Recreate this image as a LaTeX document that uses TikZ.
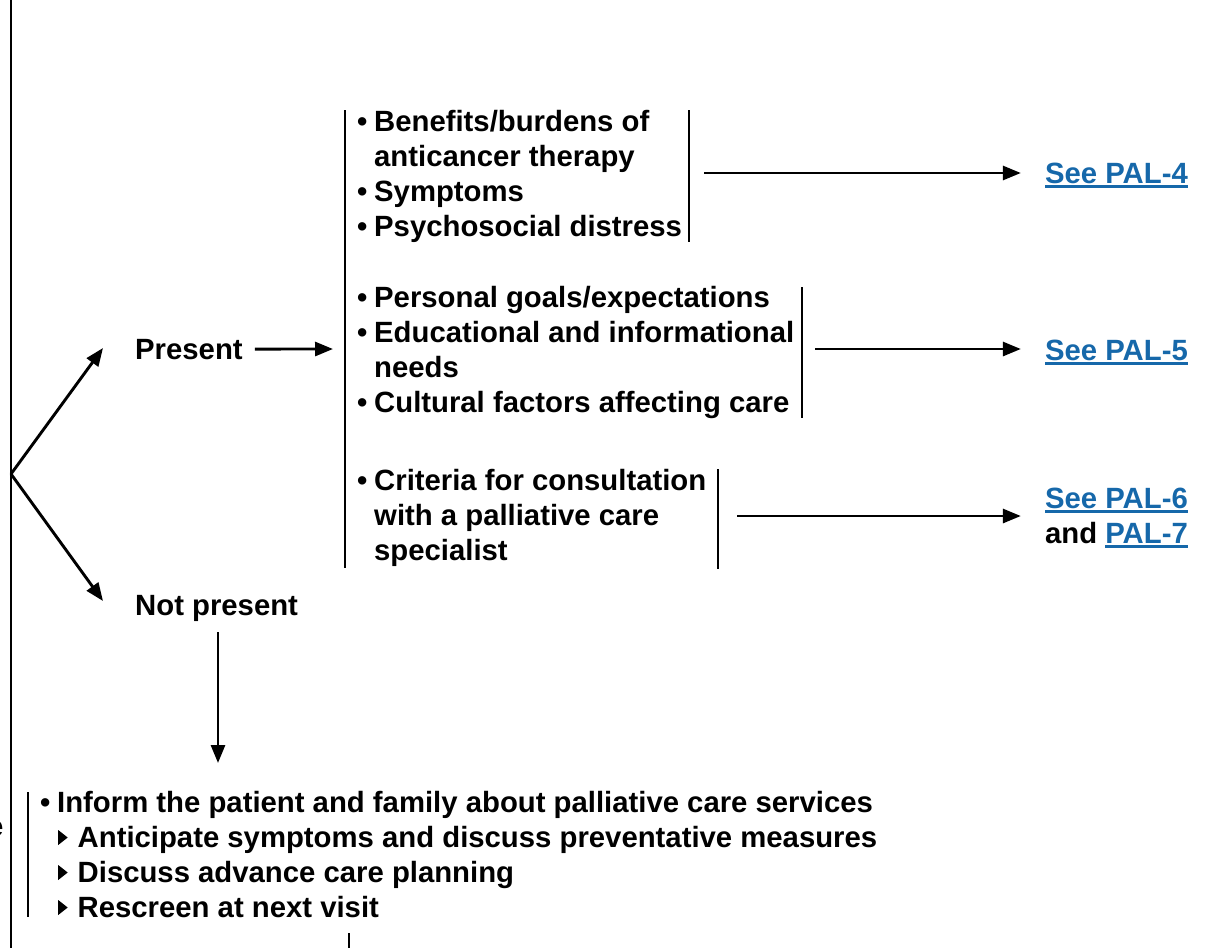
\documentclass[tikz,border=0pt]{standalone}
\usepackage{fontspec}
\setmainfont{Liberation Sans}
\usetikzlibrary{arrows.meta}
\definecolor{linkblue}{RGB}{22,104,170}
% underlined cross-reference in link colour
\newcommand{\lnk}[1]{{\color{linkblue}\setbox0=\hbox{#1}\rlap{\rule[-4.5pt]{\wd0}{2.2pt}}\box0}}
% list lines: bullet item, continuation line, sub-item with a triangle marker
\newcommand{\bitem}[1]{\hbox{\makebox[17pt][l]{•}#1}}
\newcommand{\bcont}[1]{\hbox{\hspace*{17pt}#1}}
\newcommand{\trimark}{\tikz[x=1pt,y=1pt,baseline=0pt]\fill (0,2)--(0,17)--(9.5,9.5)--cycle;}
\newcommand{\tritem}[1]{\hbox{\hspace*{18pt}\trimark\hspace*{10pt}#1}}
\newcommand{\stacklines}[1]{\vtop{\baselineskip=35pt\lineskiplimit=-50pt #1}}
\tikzset{
  txt/.style={font=\fontsize{29.3pt}{35pt}\selectfont\bfseries, inner sep=0pt},
  bar/.style={line width=2.9pt},
  arr/.style={line width=2.9pt, -{Triangle[length=18pt,width=14pt]}},
}
\begin{document}
\begin{tikzpicture}[x=1pt,y=-1pt]
\useasboundingbox (0,0) rectangle (1209,948);

% main spine and branch point
\coordinate (spineTop) at (11,0);
\coordinate (spineBot) at (11,948);
\coordinate (split) at (11,474);
\draw[bar] (spineTop) -- (spineBot);

% branch labels
\node[txt, anchor=base west] (present) at (135,359) {Present};
\node[txt, anchor=base west] (notpresent) at (135,615) {Not present};
\coordinate (upTip) at (103,348);
\coordinate (downTip) at (103,601);
\draw[arr] (split) -- (upTip);
\draw[arr] (split) -- (downTip);

% long bracket in front of the three lists
\coordinate (bigTop) at (345,110);
\coordinate (bigBot) at (345,568);
\draw[bar] (bigTop) -- (bigBot);
\coordinate (bigMid) at (345,349);
\draw[arr] ([xshift=12pt]present.east) -- ([xshift=-12pt]bigMid);

% list 1
\node[txt, anchor=base west] (listA) at (357,131) {\stacklines{%
  \bitem{Benefits/burdens of}
  \bcont{anticancer therapy}
  \bitem{Symptoms}
  \bitem{Psychosocial distress}}};
\coordinate (barATop) at (689,110);
\coordinate (barABot) at (689,242);
\coordinate (barAMid) at (689,173);
\draw[bar] (barATop) -- (barABot);
\node[txt, anchor=base east] (pal4) at (1188,183) {\lnk{See PAL-4}};
\draw[arr] ([xshift=15pt]barAMid) -- ([xshift=-24pt]barAMid -| pal4.west);

% list 2
\node[txt, anchor=base west] (listB) at (357,307) {\stacklines{%
  \bitem{Personal goals/expectations}
  \bitem{Educational and informational}
  \bcont{needs}
  \bitem{Cultural factors affecting care}}};
\coordinate (barBTop) at (802,287);
\coordinate (barBBot) at (802,418);
\coordinate (barBMid) at (802,349);
\draw[bar] (barBTop) -- (barBBot);
\node[txt, anchor=base east] (pal5) at (1188,360) {\lnk{See PAL-5}};
\draw[arr] ([xshift=13pt]barBMid) -- ([xshift=-24pt]barBMid -| pal5.west);

% list 3
\node[txt, anchor=base west] (listC) at (357,490) {\stacklines{%
  \bitem{Criteria for consultation}
  \bcont{with a palliative care}
  \bcont{specialist}}};
\coordinate (barCTop) at (718,469);
\coordinate (barCBot) at (718,569);
\coordinate (barCMid) at (718,516);
\draw[bar] (barCTop) -- (barCBot);
\node[txt, anchor=base east] (pal6) at (1188,508) {\lnk{See PAL-6}};
\node[txt, anchor=base east] (pal7) at (1188,543) {and \lnk{PAL-7}};
\draw[arr] ([xshift=19pt]barCMid) -- ([xshift=-24pt]barCMid -| pal6.west);

% not-present path
\coordinate (npFrom) at (218,632);
\coordinate (npTo) at (218,763);
\draw[arr] (npFrom) -- (npTo);

% bottom list
\coordinate (barDTop) at (28,792);
\coordinate (barDBot) at (28,917);
\draw[bar] (barDTop) -- (barDBot);
\node[txt, anchor=base west] (inform) at (40,812) {\stacklines{%
  \bitem{Inform the patient and family about palliative care services}
  \tritem{Anticipate symptoms and discuss preventative measures}
  \tritem{Discuss advance care planning}
  \tritem{Rescreen at next visit}}};
\node[txt, anchor=base east] (edge) at (3.5,836) {e};

% short line below the bottom list
\coordinate (tailTop) at (349,933);
\coordinate (tailBot) at (349,948);
\draw[line width=2.6pt] (tailTop) -- (tailBot);
\end{tikzpicture}
\end{document}
